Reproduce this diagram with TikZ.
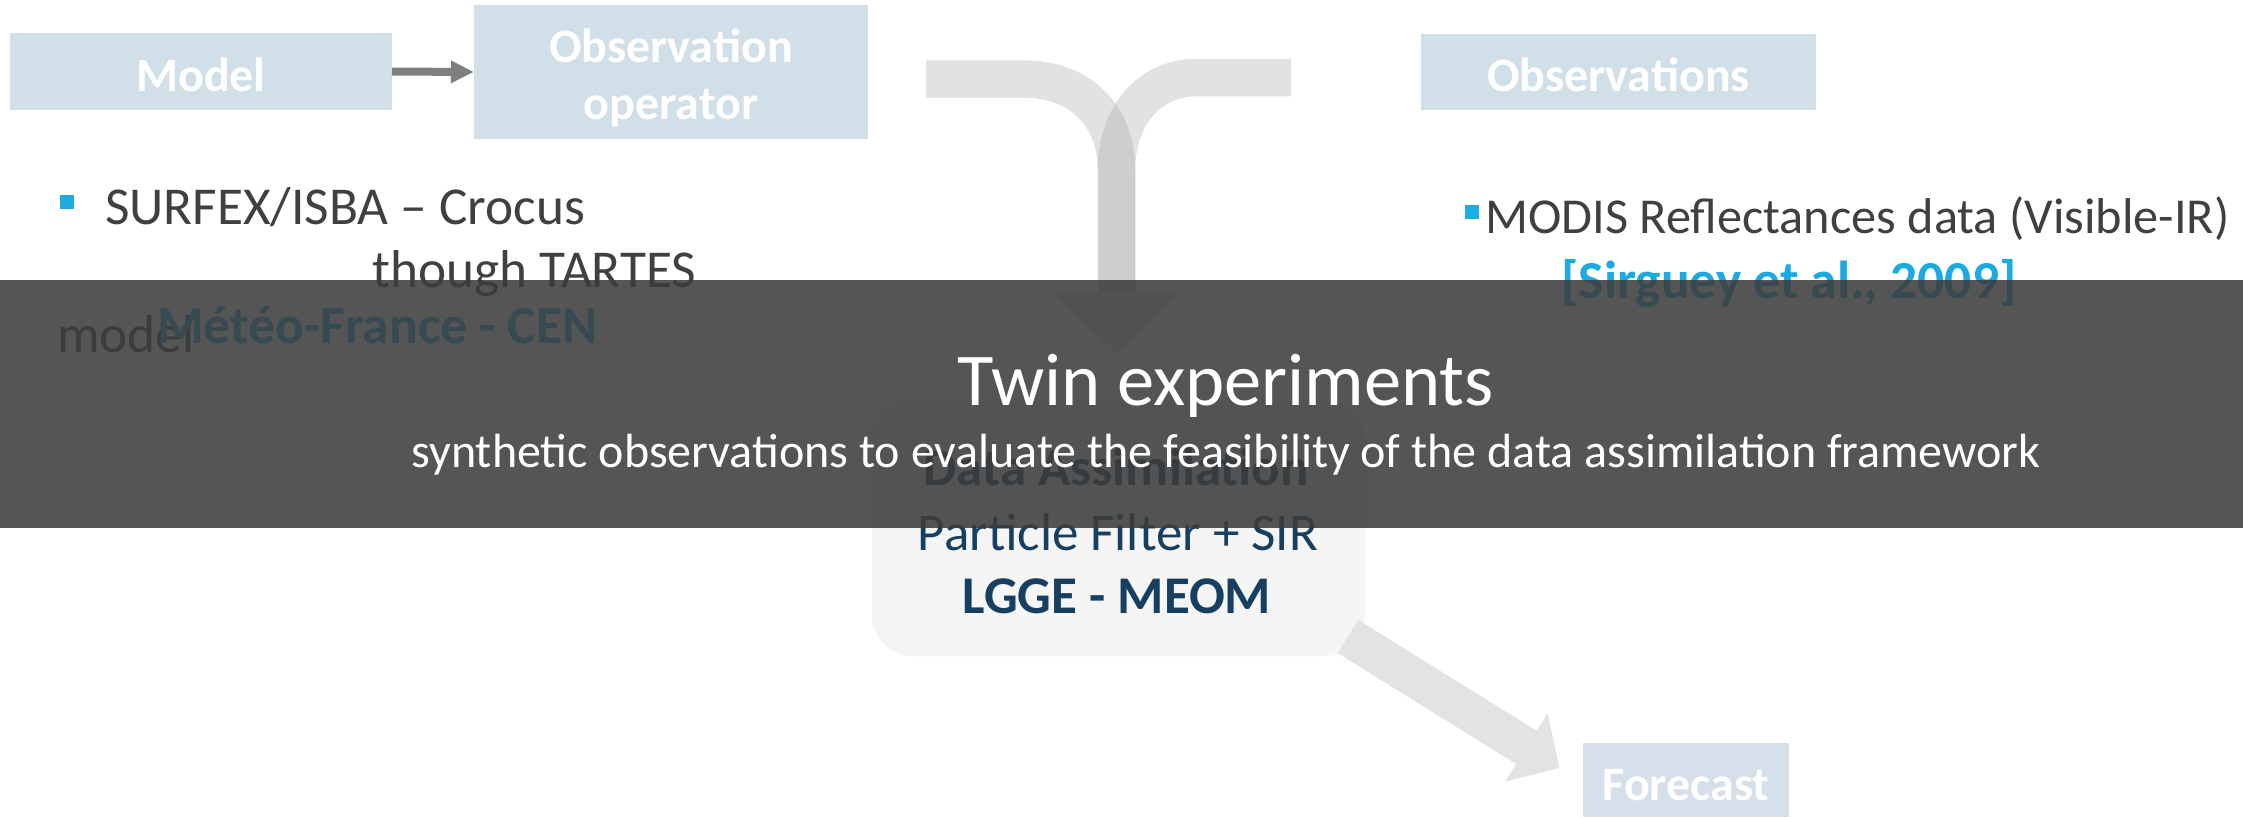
\documentclass[tikz,border=0pt]{standalone}
\usepackage{fontspec}
\setmainfont{Carlito}
\usetikzlibrary{arrows.meta}

\definecolor{tileblue}{RGB}{208,223,232}
\definecolor{tileblue2}{RGB}{214,224,234}
\definecolor{bodygray}{RGB}{64,64,64}
\definecolor{bulletblue}{RGB}{28,173,228}
\definecolor{citeblue}{RGB}{27,170,226}
\definecolor{navy}{RGB}{22,63,97}
\definecolor{linkgray}{RGB}{127,127,127}
\definecolor{flowgray}{RGB}{227,227,227}
\definecolor{mergegray}{RGB}{157,157,157}
\definecolor{panelgray}{RGB}{245,245,245}
\definecolor{veil}{RGB}{60,60,60}

\begin{document}
\begin{tikzpicture}[x=1pt,y=-1pt,
  tile/.style={fill=tileblue,draw=none,inner sep=0pt,outer sep=0pt},
  tilelabel/.style={text=white,font=\bfseries\fontsize{48}{56}\selectfont,inner sep=0pt,anchor=base},
  bodytext/.style={text=bodygray,inner sep=0pt,anchor=base west},
  bulletsq/.style={fill=bulletblue,draw=none,inner sep=0pt,minimum size=14pt},
  cite/.style={text=citeblue,inner sep=0pt,font=\bfseries\fontsize{53.5}{60}\selectfont},
  panel/.style={fill=panelgray,draw=none,rounded corners=40pt,inner sep=0pt},
  paneltext/.style={text=navy,inner sep=0pt,anchor=base},
  branch/.style={draw=mergegray,draw opacity=0.286,line width=37.5pt},
  fatarrow/.style={draw=flowgray,line width=39pt,-{Triangle[length=39pt,width=78pt]}},
  veilband/.style={fill=veil,fill opacity=0.87,draw=none,inner sep=0pt}
]
\useasboundingbox (0,0) rectangle (2243,817);
\fill[white] (0,0) rectangle (2243,817);

% top row of tiles
\node[tile,minimum width=382pt,minimum height=77pt] (model) at (201,71.5) {};
\node[tile,minimum width=394pt,minimum height=134pt] (obsop) at (671,72) {};
\node[tile,minimum width=395pt,minimum height=76pt] (obs) at (1618.5,72) {};
\node[tilelabel] (modellbl) at (201,91) {Model};
\node[tilelabel] (obsoplbl1) at (671,62) {Observation};
\node[tilelabel] (obsoplbl2) at (671,119) {operator};
\node[tilelabel] (obslbl) at (1618.5,91) {Observations};

% model feeds the observation operator
\draw[draw=linkgray,line width=8pt,-{Triangle[length=23pt,width=21pt]}] (model.east) -- (obsop.west);

% merging flow towards data assimilation
\coordinate (leftin) at (926,79);
\coordinate (rightin) at (1291,77.5);
\coordinate (merge) at (1116.5,292);
\path[branch] (leftin) -- (1023,79) .. controls (1080,79) and (1116.5,115) .. (1116.5,170) -- (merge);
\path[branch] (rightin) -- (1197,77.5) .. controls (1150,77.5) and (1116.5,115) .. (1116.5,170) -- (merge);
\fill[flowgray] (1053,292) -- (1180,292) -- (1116.5,353) -- cycle;

% left column text
\node[bulletsq,anchor=north west] (b1) at (60,195) {};
\node[bodytext,font=\fontsize{53.3}{60}\selectfont] (surfex) at (105,224) {SURFEX/ISBA – Crocus};
\node[bodytext,font=\fontsize{53.3}{60}\selectfont] (tartes) at (372,287) {though TARTES};
\node[bodytext,font=\fontsize{53.3}{60}\selectfont] (modelword) at (57,352) {model};
\node[cite,anchor=base west] (meteo) at (157,343) {Météo-France - CEN};

% right column text
\node[bulletsq,anchor=north west] (b2) at (1465,205) {};
\node[bodytext,font=\fontsize{50.3}{60}\selectfont] (modis) at (1485,233) {MODIS Reflectances data (Visible-IR)};
\node[cite,anchor=base] (sirguey) at (1789,298) {[Sirguey et al., 2009]};

% data assimilation panel
\node[panel,minimum width=493pt,minimum height=256pt] (da) at (1118.5,528) {};
\node[paneltext,font=\bfseries\fontsize{53}{60}\selectfont] (dalbl) at (1116,485) {Data Assimilation};
\node[paneltext,font=\fontsize{53}{60}\selectfont] (pflbl) at (1118,550) {Particle Filter + SIR};
\node[paneltext,font=\bfseries\fontsize{53}{60}\selectfont] (lggelbl) at (1117,613) {LGGE - MEOM};

% forecast
\node[tile,fill=tileblue2,minimum width=206pt,minimum height=74pt,anchor=north west] (fc) at (1583,743) {};
\node[tilelabel] (fclbl) at (1686,800) {Forecast};
\coordinate (fcfrom) at (1348,636.5);
\coordinate (fcto) at (1559.5,768);
\draw[fatarrow] (fcfrom) -- (fcto);

% title band
\node[veilband,minimum width=2243pt,minimum height=248pt,anchor=north west] (band) at (0,280) {};
\node[text=white,inner sep=0pt,anchor=base,font=\fontsize{74.5}{80}\selectfont] (title) at (1226,405) {Twin experiments};
\node[text=white,inner sep=0pt,anchor=base,font=\fontsize{48}{54}\selectfont] (subtitle) at (1226,467) {synthetic observations to evaluate the feasibility of the data assimilation framework};
\end{tikzpicture}
\end{document}
